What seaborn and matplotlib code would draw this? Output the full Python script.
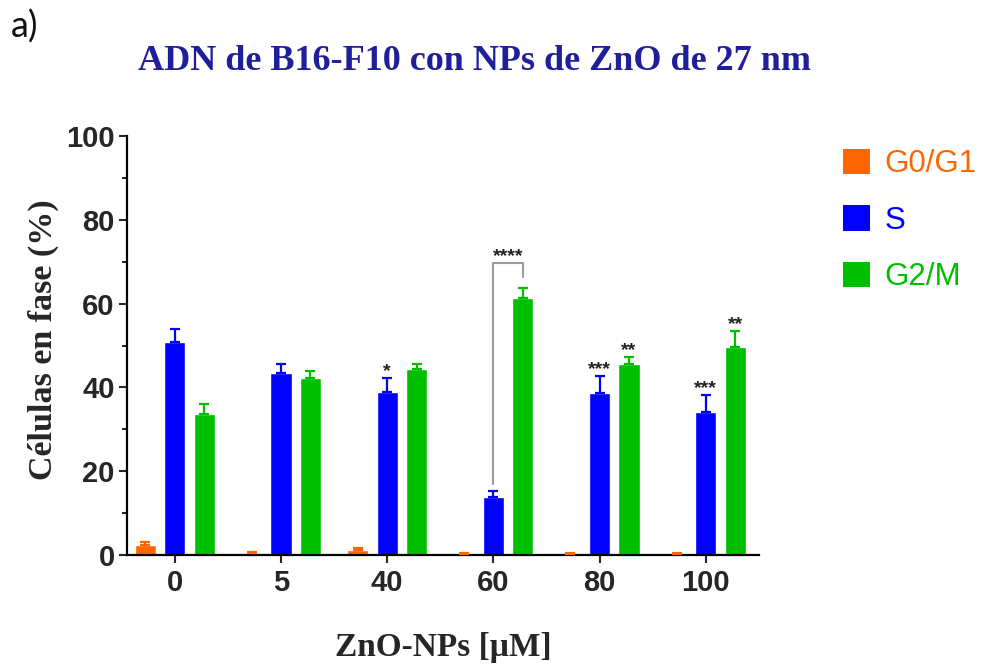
import matplotlib
matplotlib.use("Agg")
import matplotlib.pyplot as plt
from matplotlib.patches import Patch
import seaborn as sns
import pandas as pd

# ---------------- data ----------------
concentrations = ["0", "5", "40", "60", "80", "100"]
phases = ["G0/G1", "S", "G2/M"]
g0g1_values = [2.4, 0.5, 1.2, 0.3, 0.3, 0.3]
g0g1_errors = [0.8, 0.2, 0.5, 0.1, 0.1, 0.1]
s_values = [50.8, 43.4, 38.9, 13.8, 38.7, 34.1]
s_errors = [3.1, 2.2, 3.3, 1.5, 4.0, 4.1]
g2m_values = [33.7, 42.2, 44.4, 61.3, 45.6, 49.6]
g2m_errors = [2.3, 1.7, 1.2, 2.4, 1.7, 3.9]
significance = [("40", "S", "*"), ("80", "S", "***"), ("100", "S", "***"),
                ("80", "G2/M", "**"), ("100", "G2/M", "**")]
bracket = ("60", "S", "G2/M", "****")
y_ticks = [0, 20, 40, 60, 80, 100]
title = "ADN de B16-F10 con NPs de ZnO de 27 nm"
xlabel = "ZnO-NPs [\u03bcM]"
ylabel = "C\u00e9lulas en fase (%)"
colors = {"G0/G1": "#FF6600", "S": "#0000FF", "G2/M": "#00BF00"}

values = {"G0/G1": g0g1_values, "S": s_values, "G2/M": g2m_values}
errors = {"G0/G1": g0g1_errors, "S": s_errors, "G2/M": g2m_errors}
rows = []
for ph in phases:
    for i, c in enumerate(concentrations):
        rows.append({"conc": c, "fase": ph, "value": values[ph][i], "err": errors[ph][i]})
df = pd.DataFrame(rows)

# ---------------- style ----------------
sns.set_style("ticks")
plt.rcParams["font.family"] = ["Liberation Sans", "DejaVu Sans"]
SERIF = ["Liberation Serif", "DejaVu Serif"]

fig = plt.figure(figsize=(9.9, 6.68), dpi=100)
ax = fig.add_axes([127 / 990, 1 - 555 / 668, (759 - 127) / 990, (555 - 136) / 668])

sns.barplot(data=df, x="conc", y="value", hue="fase", order=concentrations,
            hue_order=phases, palette=colors, width=0.83, gap=0.28,
            errorbar=None, saturation=1, legend=False, ax=ax)

# map patches to data (sorted by x position: conc-major, phase-minor)
patches = sorted([p for p in ax.patches if p.get_width() > 0], key=lambda p: p.get_x())
pos = {}
k = 0
for i, c in enumerate(concentrations):
    for ph in phases:
        p = patches[k]
        k += 1
        xc = p.get_x() + p.get_width() / 2
        pos[(c, ph)] = (xc, p.get_height(), errors[ph][i])
        ax.errorbar(xc, p.get_height(), yerr=[[0], [errors[ph][i]]], fmt="none",
                    ecolor=colors[ph], elinewidth=1.6, capsize=3.4, capthick=1.6, zorder=3)

for c, ph, lab in significance:
    xc, h, e = pos[(c, ph)]
    ax.text(xc, h + e + 0.4, lab, ha="center", va="baseline", fontsize=14,
            fontweight="bold", color="#222222")

c, p1, p2, lab = bracket
x1, h1, e1 = pos[(c, p1)]
x2, h2, e2 = pos[(c, p2)]
top = 69.7
ax.plot([x1, x1, x2, x2], [h1 + e1 + 1.7, top, top, h2 + e2 + 2.6],
        color="#9a9a9a", lw=1.5, zorder=2)
ax.text((x1 + x2) / 2, top + 0.5, lab, ha="center", va="baseline", fontsize=14,
        fontweight="bold", color="#222222")

# axes
ax.set_xlim(-0.45, 5.5)
ax.set_ylim(0, 100)
ax.set_yticks(y_ticks)
ax.set_yticks([10, 30, 50, 70, 90], minor=True)
ax.tick_params(axis="y", which="major", length=5.8, width=1.5, pad=3.0, labelsize=21)
ax.tick_params(axis="y", which="minor", length=3.6, width=1.5)
ax.tick_params(axis="x", which="major", length=5.8, width=1.5, pad=4.5, labelsize=21)
for t in ax.get_xticklabels() + ax.get_yticklabels():
    t.set_fontweight("bold")
sns.despine(ax=ax)
for s in ("left", "bottom"):
    ax.spines[s].set_linewidth(1.6)
    ax.spines[s].set_color("black")

ax.set_xlabel(xlabel, fontsize=24, fontweight="bold", family=SERIF)
ax.xaxis.set_label_coords(0.5, -0.183)
ax.set_ylabel(ylabel, fontsize=24.5, fontweight="bold", family=SERIF)
ax.yaxis.set_label_coords(-0.108, 0.515)

# legend
handles = [Patch(facecolor=colors[ph], edgecolor="none", label=ph) for ph in phases]
leg = ax.legend(handles=handles, loc="upper left", bbox_to_anchor=(843 / 990, 1 - 149 / 668),
                bbox_transform=fig.transFigure, frameon=False, fontsize=22.5,
                handlelength=0.87, handleheight=0.87, handletextpad=0.45,
                labelspacing=0.83, borderpad=0, borderaxespad=0)
for t, ph in zip(leg.get_texts(), phases):
    t.set_color(colors[ph])

fig.text(475 / 990, 1 - 70 / 668, title, ha="center", va="baseline", fontsize=26,
         fontweight="bold", family=SERIF, color="#1f1f99")
fig.text(11 / 990, 1 - 38 / 668, "a)", ha="left", va="baseline", fontsize=26,
         family=["Lato", "DejaVu Sans"], color="#111111")

fig.savefig("out.png", dpi=100)
